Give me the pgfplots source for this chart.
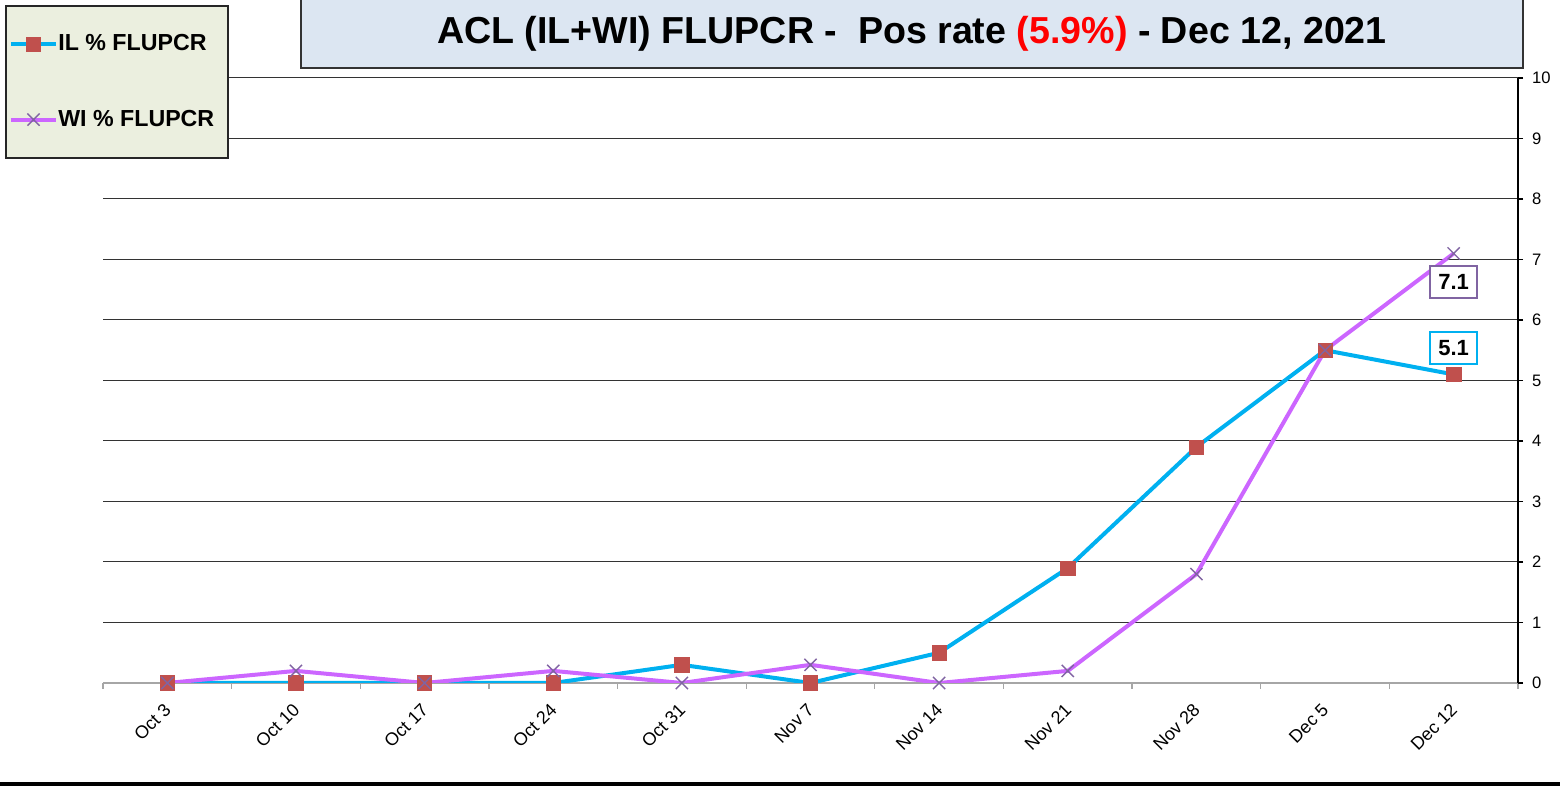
\documentclass[border=0pt]{standalone}
\usepackage{pgfplots}
\pgfplotsset{compat=1.18}
\usepackage{fontspec}
\setmainfont{Liberation Sans}
\definecolor{illine}{HTML}{00B0F0}
\definecolor{ilmark}{HTML}{C0504D}
\definecolor{wiline}{HTML}{CC66FF}
\definecolor{wimark}{HTML}{8064A2}
\definecolor{titlefill}{HTML}{DCE6F2}
\definecolor{legfill}{HTML}{EBEFDF}
\begin{document}
\begin{tikzpicture}
\path[use as bounding box] (0,0) rectangle (780pt,393pt);
\fill[black] (0,0) rectangle (780pt,2pt);
\draw[line width=0.8pt, draw=black!80, fill=titlefill] (150.5pt,359pt) rectangle (761.5pt,394pt);
\node[font=\bfseries\fontsize{18.8}{22}\selectfont] at (456pt,376pt) {ACL (IL+WI) FLUPCR -\ \ Pos rate \textcolor{red}{(5.9\%)} - Dec 12, 2021};
\begin{axis}[
  at={(51.5pt,51.5pt)}, anchor=south west, scale only axis,
  width=707.5pt, height=302.5pt,
  xmin=-0.5, xmax=10.5, ymin=0, ymax=10,
  axis x line*=bottom, axis y line*=right,
  x axis line style={draw=gray!70, line width=0.8pt},
  y axis line style={draw=black, line width=1.2pt},
  xtick={0,...,10},
  xticklabels={Oct 3,Oct 10,Oct 17,Oct 24,Oct 31,Nov 7,Nov 14,Nov 21,Nov 28,Dec 5,Dec 12},
  major x tick style={draw=none},
  minor xtick={-0.5,0.5,...,10.5},
  minor x tick style={draw=gray!70, line width=0.6pt},
  tick align=outside,
  minor tick length=3pt,
  major tick length=2.5pt,
  ytick={0,...,10},
  y tick style={draw=black, line width=0.8pt},
  ymajorgrids, grid style={draw=black!80, line width=0.5pt},
  xticklabel style={rotate=45, anchor=north east, xshift=-3pt, font=\fontsize{9}{10}\selectfont},
  yticklabel style={font=\fontsize{8.3}{10}\selectfont, xshift=1pt},
  /pgf/number format/assume math mode=true,
  legend style={at={(-0.06926,1.12066)}, anchor=north west, draw=black!85, line width=0.8pt,
    fill=legfill, font=\bfseries\fontsize{11.6}{13}\selectfont,
    inner xsep=1.5pt, inner ysep=12.5pt, row sep=24pt,
    nodes={inner xsep=0pt}},
  legend cell align=left,
  legend image code/.code={\draw[mark repeat=2,mark phase=2] plot coordinates {(0cm,0cm)(0.4cm,0cm)(0.8cm,0cm)};},
]
\addplot[color=illine, line width=2pt, mark=square*, mark size=3.6pt,
  mark options={fill=ilmark, draw=ilmark, line width=0.3pt}] coordinates {
  (0,0) (1,0) (2,0) (3,0) (4,0.3) (5,0) (6,0.5) (7,1.9) (8,3.9) (9,5.5) (10,5.1)};
\addlegendentry{IL \% FLUPCR}
\addplot[color=wiline, line width=2pt, mark=x, mark size=4.3pt,
  mark options={draw=wimark, line width=0.7pt}] coordinates {
  (0,0) (1,0.2) (2,0) (3,0.2) (4,0) (5,0.3) (6,0) (7,0.2) (8,1.8) (9,5.5) (10,7.1)};
\addlegendentry{WI \% FLUPCR\hspace*{5.5pt}}
\node[draw=wimark, line width=0.8pt, fill=white, font=\bfseries\fontsize{11}{13}\selectfont,
  minimum width=23.5pt, minimum height=16pt, inner sep=1pt] at (axis cs:10,6.63) {7.1};
\node[draw=illine, line width=0.8pt, fill=white, font=\bfseries\fontsize{11}{13}\selectfont,
  minimum width=23.5pt, minimum height=16pt, inner sep=1pt] at (axis cs:10,5.54) {5.1};
\end{axis}
\end{tikzpicture}
\end{document}
